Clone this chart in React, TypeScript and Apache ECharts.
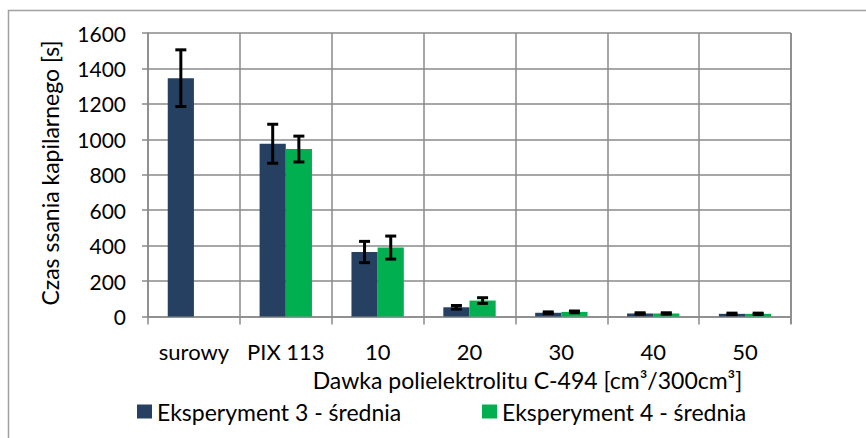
import React, { useEffect, useRef } from "react";
import * as echarts from "echarts";

const categories = ["surowy", "PIX 113", "10", "20", "30", "40", "50"];
const seriesNames = ["Eksperyment 3 - średnia", "Eksperyment 4 - średnia"];
const exp3 = [1345, 975, 364, 52, 21, 17, 15];
const err3 = [160, 110, 60, 10, 5, 4, 4];
const exp4: (number | null)[] = [null, 945, 389, 90, 26, 17, 15];
const err4: (number | null)[] = [null, 73, 65, 16, 5, 4, 4];
const yTicks = { min: 0, max: 1600, interval: 200 };
const xTitle = "Dawka polielektrolitu C-494 [cm³/300cm³]";
const yTitle = "Czas ssania kapilarnego [s]";

const FONT = "Lato";
const NAVY = "#254061";
const GREEN = "#00B050";
const GRID = "#8a8a8a";
const CAT_GAP = 0.43;

function errData(vals: (number | null)[], errs: (number | null)[]) {
  const out: any[] = [];
  vals.forEach((v, i) => {
    const e = errs[i];
    if (v != null && e != null) out.push([i, v - e, v + e]);
  });
  return out;
}

function makeRender(side: number) {
  return (params: any, api: any) => {
    const x = api.value(0);
    const lo = api.coord([x, api.value(1)]);
    const hi = api.coord([x, api.value(2)]);
    const band = api.size([1, 0])[0];
    const bw = (band * (1 - CAT_GAP)) / 2;
    const cx = lo[0] + (side * bw) / 2;
    const cap = 5.5;
    const style = { stroke: "#000", lineWidth: 3 };
    return {
      type: "group",
      children: [
        { type: "line", shape: { x1: cx, y1: lo[1], x2: cx, y2: hi[1] }, style },
        { type: "line", shape: { x1: cx - cap, y1: lo[1], x2: cx + cap, y2: lo[1] }, style },
        { type: "line", shape: { x1: cx - cap, y1: hi[1], x2: cx + cap, y2: hi[1] }, style },
      ],
    };
  };
}

export default function App() {
  const ref = useRef<HTMLDivElement>(null);
  useEffect(() => {
    if (!ref.current) return;
    const chart = echarts.init(ref.current, null, { renderer: "svg" });
    const tickStyle = { fontFamily: FONT, fontSize: 21, color: "#000" };
    const textStyle = { fontFamily: FONT, fontSize: 23, color: "#000" };
    chart.setOption({
      animation: false,
      backgroundColor: "#fff",
      textStyle: { fontFamily: FONT },
      grid: { left: 148, top: 33, right: 75, bottom: 121.5, containLabel: false },
      legend: [
        {
          data: [seriesNames[0]],
          left: 132,
          top: 395,
          itemWidth: 15,
          itemHeight: 14,
          itemGap: 6,
          icon: "rect",
          textStyle: { ...textStyle },
        },
        {
          data: [seriesNames[1]],
          left: 477,
          top: 395,
          itemWidth: 15,
          itemHeight: 14,
          icon: "rect",
          textStyle: { ...textStyle },
        },
      ],
      xAxis: {
        type: "category",
        data: categories,
        axisLine: { show: true, lineStyle: { color: GRID, width: 1.5 } },
        axisTick: { show: true, interval: 0, length: 8, lineStyle: { color: GRID, width: 1.5 } },
        axisLabel: { ...tickStyle, fontSize: 22, interval: 0, margin: 24 },
        splitLine: { show: true, interval: 0, lineStyle: { color: GRID, width: 1.5 } },
      },
      yAxis: {
        type: "value",
        min: yTicks.min,
        max: yTicks.max,
        interval: yTicks.interval,
        axisLine: { show: true, lineStyle: { color: GRID, width: 1.5 } },
        axisTick: { show: true, length: 6, lineStyle: { color: GRID, width: 1.5 } },
        axisLabel: { ...tickStyle, margin: 22, formatter: (v: number) => String(v) },
        splitLine: { show: true, lineStyle: { color: GRID, width: 1.5 } },
      },
      graphic: [
        {
          type: "rect",
          shape: { x: 8.5, y: 10.5, width: 1000, height: 1000 },
          style: { fill: "none", stroke: "#a0a0a0", lineWidth: 1.5 },
          silent: true,
        },
        {
          type: "line",
          shape: { x1: 791, y1: 33, x2: 791, y2: 324 },
          style: { stroke: GRID, lineWidth: 1.5 },
          z: 5,
        },
        {
          type: "text",
          x: 527.5,
          y: 380,
          style: {
            text: xTitle,
            fontFamily: FONT,
            fontSize: 23,
            fill: "#000",
            align: "center",
            verticalAlign: "middle",
          },
        },
        {
          type: "text",
          x: 50,
          y: 173,
          rotation: Math.PI / 2,
          style: {
            text: yTitle,
            fontFamily: FONT,
            fontSize: 23,
            fill: "#000",
            align: "center",
            verticalAlign: "middle",
          },
        },
      ],
      series: [
        {
          name: seriesNames[0],
          type: "bar",
          data: exp3,
          itemStyle: { color: NAVY },
          barGap: "0%",
          barCategoryGap: CAT_GAP * 100 + "%",
        },
        {
          name: seriesNames[1],
          type: "bar",
          data: exp4,
          itemStyle: { color: GREEN },
          barGap: "0%",
          barCategoryGap: CAT_GAP * 100 + "%",
        },
        {
          type: "custom",
          renderItem: makeRender(-1),
          data: errData(exp3, err3),
          encode: { x: 0, y: [1, 2] },
          z: 10,
          silent: true,
        },
        {
          type: "custom",
          renderItem: makeRender(1),
          data: errData(exp4, err4),
          encode: { x: 0, y: [1, 2] },
          z: 10,
          silent: true,
        },
      ],
    });
    return () => chart.dispose();
  }, []);
  return (
    <div
      ref={ref}
      style={{ position: "fixed", left: 0, top: 0, width: 866, height: 438 }}
    />
  );
}
